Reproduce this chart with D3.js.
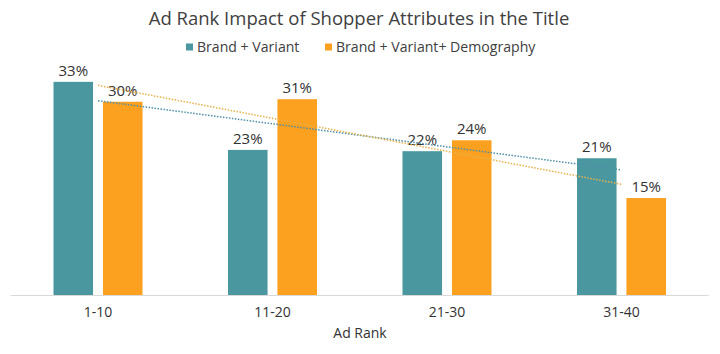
<!DOCTYPE html>
<html>
<head>
<meta charset="utf-8">
<script src="https://cdn.jsdelivr.net/npm/d3@7/dist/d3.min.js"></script>
<style>
  body { margin: 0; background: #fff; }
  svg { display: block; font-family: "Open Sans", sans-serif; }
</style>
</head>
<body>
<svg id="chart" width="720" height="354"></svg>
<script>
const categories = ["1-10", "11-20", "21-30", "31-40"];
const seriesNames = ["Brand + Variant", "Brand + Variant+ Demography"];
const brandVariant = [33.2, 22.6, 22.4, 21.3];
const brandVariantDemo = [30.1, 30.5, 24.1, 15.1];
const colors = ["#4a979f", "#fba11f"];
const trendColors = ["#4f8fa6", "#e6b24a"];

const W = 720, H = 354;
const svg = d3.select("#chart");
const baseY = 295;

const x0 = d3.scaleBand().domain(categories).range([10.75, 708.75]).padding(0);
const x1 = d3.scaleBand().domain(seriesNames).range([0, 89]).paddingInner(0.2).paddingOuter(0);
const y = d3.scaleLinear().domain([0, 10]).range([baseY, baseY - 64.2]);

const seriesData = [brandVariant, brandVariantDemo];

// title
svg.append("text").attr("x", 359).attr("y", 25).attr("text-anchor", "middle")
  .attr("font-size", 18.5).attr("fill", "#404040").text("Ad Rank Impact of Shopper Attributes in the Title");

// legend
const legendItems = [{x: 186}, {x: 325}];
seriesNames.forEach((name, i) => {
  const g = svg.append("g").attr("transform", `translate(${legendItems[i].x},47)`);
  g.append("rect").attr("x", 0).attr("y", -3.5).attr("width", 7).attr("height", 7).attr("fill", colors[i]);
  g.append("text").attr("x", 11).attr("y", 5).attr("font-size", 14.1).attr("fill", "#404040").text(name);
});

// baseline
svg.append("line").attr("x1", x0.range()[0]).attr("x2", x0.range()[1])
  .attr("y1", baseY + 0.5).attr("y2", baseY + 0.5).attr("stroke", "#d9d9d9").attr("stroke-width", 1);

// bars
const groupOffset = (x0.bandwidth() - 89) / 2;
seriesData.forEach((vals, si) => {
  vals.forEach((v, ci) => {
    const bx = x0(categories[ci]) + groupOffset + x1(seriesNames[si]);
    svg.append("rect").attr("x", bx).attr("y", y(v)).attr("width", x1.bandwidth())
      .attr("height", baseY - y(v)).attr("fill", colors[si]);
    svg.append("text").attr("x", bx + x1.bandwidth() / 2).attr("y", y(v) - 6)
      .attr("text-anchor", "middle").attr("font-size", 15).attr("fill", "#333").text(Math.round(v) + "%");
  });
});

// linear trendlines
seriesData.forEach((vals, si) => {
  const n = vals.length;
  const xs = vals.map((_, i) => i + 1);
  const mx = d3.mean(xs), my = d3.mean(vals);
  const slope = d3.sum(xs.map((xv, i) => (xv - mx) * (vals[i] - my))) / d3.sum(xs.map(xv => (xv - mx) ** 2));
  const icpt = my - slope * mx;
  const pts = [1, n].map(k => [x0(categories[k - 1]) + x0.bandwidth() / 2, y(icpt + slope * k)]);
  svg.append("path").attr("d", d3.line()(pts)).attr("fill", "none")
    .attr("stroke", trendColors[si]).attr("stroke-width", 1.5).attr("stroke-dasharray", "1.5,1.5");
});

// x axis labels
const xAxis = d3.axisBottom(x0).tickSize(0).tickPadding(12);
const ax = svg.append("g").attr("transform", `translate(0,${baseY})`).call(xAxis);
ax.select(".domain").remove();
ax.selectAll("text").attr("font-size", 14).attr("fill", "#333").attr("font-family", "Open Sans, sans-serif");

svg.append("text").attr("x", 360).attr("y", 338).attr("text-anchor", "middle")
  .attr("font-size", 14).attr("fill", "#333").text("Ad Rank");
</script>
</body>
</html>
